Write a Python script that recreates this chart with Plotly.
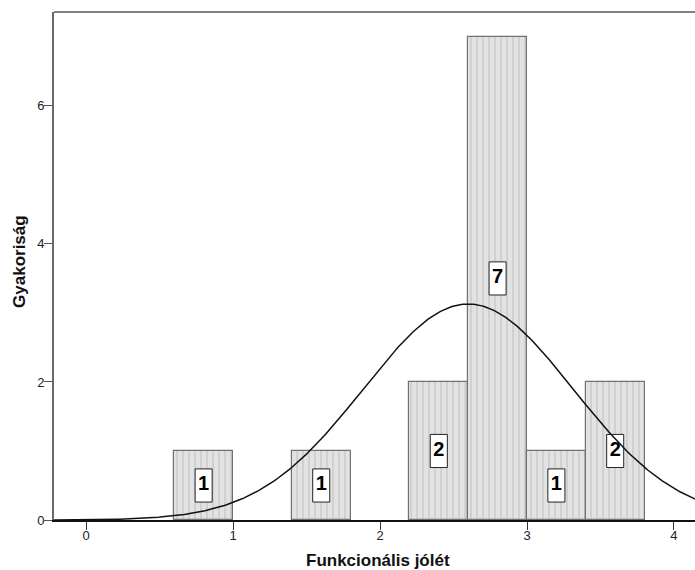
import numpy as np
import plotly.graph_objects as go

# ---- data ----
bin_starts = [0.6, 1.4, 2.2, 2.6, 3.0, 3.4]
bin_width = 0.4
counts = [1, 1, 2, 7, 1, 2]
x_ticks = [0, 1, 2, 3, 4]
y_ticks = [0, 2, 4, 6]
fit_mean = 2.60
fit_sd = 0.714
n_total = sum(counts)

x_title = "Funkcionális jólét"
y_title = "Gyakoriság"

FONT = "Liberation Sans, Arial, sans-serif"

centers = [s + bin_width / 2 for s in bin_starts]

fig = go.Figure()

fig.add_trace(go.Bar(
    x=centers, y=counts, width=bin_width,
    marker=dict(
        color="#e2e2e2",
        line=dict(color="#707070", width=1.2),
        pattern=dict(shape="|", size=6, solidity=0.18,
                     fgcolor="#a0a0a0", bgcolor="#e2e2e2", fillmode="overlay"),
    ),
    hoverinfo="skip", showlegend=False,
))

# label boxes (drawn as traces so the fitted curve can pass over them)
half_w = 0.058
half_h = 0.24
bx, by = [], []
for c, n in zip(centers, counts):
    yc = n / 2
    bx += [c - half_w, c + half_w, c + half_w, c - half_w, c - half_w, None]
    by += [yc - half_h, yc - half_h, yc + half_h, yc + half_h, yc - half_h, None]
fig.add_trace(go.Scatter(
    x=bx, y=by, mode="lines", fill="toself", fillcolor="white",
    line=dict(color="#222222", width=1), hoverinfo="skip", showlegend=False,
))
fig.add_trace(go.Scatter(
    x=centers, y=[n / 2 for n in counts], mode="text",
    text=[f"<b>{n}</b>" for n in counts],
    textfont=dict(family=FONT, size=20, color="black"),
    textposition="middle center", hoverinfo="skip", showlegend=False,
))

# normal fit curve
xs = np.linspace(-0.22, 4.15, 400)
ys = n_total * bin_width / (fit_sd * np.sqrt(2 * np.pi)) * np.exp(-0.5 * ((xs - fit_mean) / fit_sd) ** 2)
fig.add_trace(go.Scatter(
    x=xs, y=ys, mode="lines", line=dict(color="#111111", width=1.5),
    hoverinfo="skip", showlegend=False,
))

fig.update_layout(
    width=695, height=570,
    margin=dict(l=54, r=0, t=12, b=50),
    paper_bgcolor="white", plot_bgcolor="white",
    font=dict(family=FONT, color="#222222"),
    bargap=0,
    xaxis=dict(
        range=[-0.218, 4.143], tickvals=x_ticks, ticks="outside", ticklen=8,
        tickcolor="#333333", tickwidth=1.2, ticklabelstandoff=-5,
        showline=True, linecolor="#111111", linewidth=1.5,
        showgrid=False, zeroline=False, automargin=False,
        tickfont=dict(size=13, color="#222222"),
    ),
    yaxis=dict(
        range=[0, 7.36], tickvals=y_ticks, ticks="outside", ticklen=8,
        tickcolor="#555555", tickwidth=1.2, ticklabelstandoff=-3,
        showline=True, linecolor="#6a6a6a", linewidth=1.8,
        showgrid=False, zeroline=False, automargin=False,
        tickfont=dict(size=13, color="#222222"),
    ),
    shapes=[dict(type="line", xref="paper", yref="paper", x0=0, x1=1, y0=1, y1=1,
                 line=dict(color="#808080", width=2))],
    annotations=[
        dict(text=f"<b>{x_title}</b>", xref="paper", yref="paper",
             x=0.506, y=0, yshift=-40, xanchor="center", yanchor="middle",
             showarrow=False, font=dict(size=17, color="#111111", family=FONT)),
        dict(text=f"<b>{y_title}</b>", xref="paper", yref="paper",
             x=0, xshift=-34, y=0.508, xanchor="center", yanchor="middle",
             textangle=-90, showarrow=False,
             font=dict(size=17, color="#111111", family=FONT)),
    ],
)

fig.write_html("out.html", post_script="document.body.style.margin='0';",
               config={"displayModeBar": False})
